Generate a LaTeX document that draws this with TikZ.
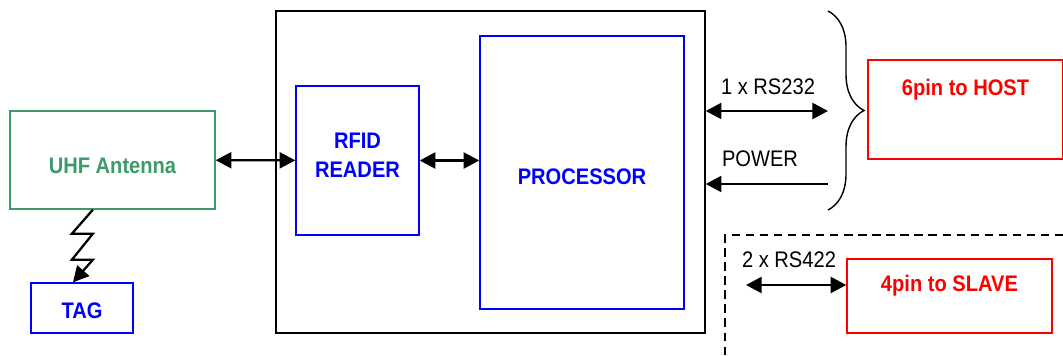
\documentclass[tikz,border=0pt]{standalone}
\usepackage{fontspec}
\setmainfont{Liberation Sans}
\usepackage{graphicx}
\usepackage{xcolor}
\usepackage{tikz}
\usetikzlibrary{positioning,arrows.meta,calc,decorations.pathreplacing}
\definecolor{antgreen}{RGB}{60,155,105}
\definecolor{partblue}{RGB}{0,0,255}
\definecolor{portred}{RGB}{255,0,0}
\newcommand{\tallstr}[1]{\scalebox{1}[1.12]{#1}}
\tikzset{
  board-node/.style={draw=black, line width=1pt, inner sep=0pt},
  part-node/.style={draw=partblue, line width=1pt, font=\fontsize{14.3}{20.6}\selectfont\bfseries,
    text=partblue, align=center, inner sep=0pt},
  antenna-node/.style={draw=antgreen, line width=1pt, font=\fontsize{14.3}{17}\selectfont\bfseries,
    text=antgreen, align=center, inner sep=0pt},
  port-node/.style={draw=portred, line width=1pt, inner sep=0pt},
  port-text/.style={font=\fontsize{14.3}{17}\selectfont\bfseries, text=portred},
  bus-label/.style={font=\fontsize{14.3}{17}\selectfont, inner sep=1pt},
  flow-arrow/.style={-{Triangle[length=3.9mm, width=4mm]}, line width=1.6pt},
  bidir-arrow/.style={{Triangle[length=3.9mm, width=4mm]}-{Triangle[length=3.9mm, width=4mm]}, line width=1.6pt},
  link-brace/.style={decorate, decoration={brace, amplitude=0.9cm}, line width=1pt}
}

\begin{document}
\begin{tikzpicture}[x=0.025cm, y=-0.025cm]
\useasboundingbox (0,0) rectangle (1063,355);
% main board and parts
\node[board-node, minimum width=10.725cm, minimum height=8.05cm] (board) at (490.5,172) {};
\node[part-node, minimum width=3.075cm, minimum height=3.725cm, text depth=7pt] (reader) at (357.5,160.5)
  {\tallstr{RFID}\\\tallstr{READER}};
\node[part-node, minimum width=5.1cm, minimum height=6.825cm, text height=16.5pt, text depth=0pt] (proc) at (582,172.5)
  {\tallstr{PROCESSOR}};
\node[antenna-node, minimum width=5.125cm, minimum height=2.45cm, text height=18.7pt, text depth=0pt] (antenna) at (112.5,160)
  {\tallstr{UHF Antenna}};
\node[part-node, minimum width=2.55cm, minimum height=1.25cm, text height=14.4pt, text depth=0pt] (tag) at (82,308)
  {\tallstr{TAG}};
% ports
\node[port-node, minimum width=4.875cm, minimum height=2.475cm,
  label={[port-text, label distance=-1.15cm, name=hostname]north:\tallstr{6pin to HOST}}] (host) at (965.5,109.5) {};
\node[port-node, minimum width=5.125cm, minimum height=1.85cm,
  label={[port-text, label distance=-1.07cm, name=slavename]north:\tallstr{4pin to SLAVE}}] (slave) at (949.5,296) {};
% connections
\draw[bidir-arrow] (antenna) -- (reader);
\draw[bidir-arrow] (reader.east) -- (reader.east -| proc.west);
\draw[flow-arrow] ([xshift=-0.49cm]antenna.south) -- ++(-21,24) -- ++(21,0) -- ++(-21,26) -- ++(21,0)
  -- (tag.north -| 73,0);
\coordinate (rs232-end) at (828,111);
\coordinate (power-start) at (828,184);
\coordinate (rs422-start) at (746,285);
\draw[bidir-arrow] (rs232-end -| board.east) -- (rs232-end);
\draw[flow-arrow] (power-start) -- (power-start -| board.east);
\draw[bidir-arrow] (rs422-start) -- (rs422-start -| slave.west);
\node[bus-label] (rs232) at (768,87) {\tallstr{1 x RS232}};
\node[bus-label] (power) at (760,159) {\tallstr{POWER}};
\node[bus-label] (rs422) at (789,260) {\tallstr{2 x RS422}};
% host brace and slave region
\coordinate (brace-top) at (828,11);
\coordinate (brace-bottom) at (828,210);
\draw[link-brace] (brace-top) -- (brace-bottom);
\coordinate (slave-corner) at (725,355);
\coordinate (slave-edge) at (1063,235);
\draw[dashed, dash pattern=on 6pt off 4pt, line width=0.8pt] (slave-corner) |- (slave-edge);
\end{tikzpicture}
\end{document}
